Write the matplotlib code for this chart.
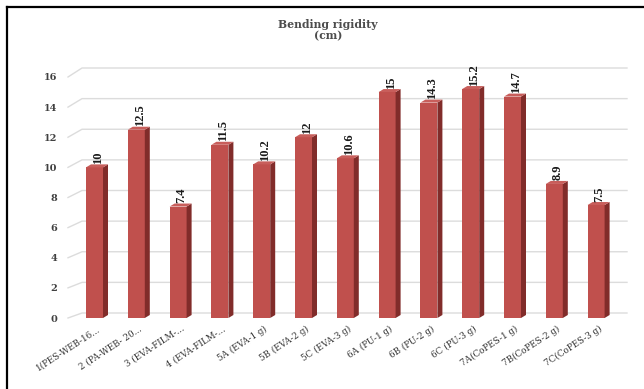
import matplotlib
matplotlib.use("Agg")
import matplotlib.pyplot as plt
from matplotlib.patches import Polygon
from matplotlib.lines import Line2D
import matplotlib.transforms as mtransforms

categories = ["1(PES-WEB-16...", "2 (PA-WEB- 20...", "3 (EVA-FILM-...", "4 (EVA-FILM-...",
              "5A (EVA-1 g)", "5B (EVA-2 g)", "5C (EVA-3 g)", "6A (PU-1 g)", "6B (PU-2 g)",
              "6C (PU-3 g)", "7A(CoPES-1 g)", "7B(CoPES-2 g)", "7C(CoPES-3 g)"]
rigidity = [10, 12.5, 7.4, 11.5, 10.2, 12, 10.6, 15, 14.3, 15.2, 14.7, 8.9, 7.5]
value_labels = ["10", "12.5", "7.4", "11.5", "10.2", "12", "10.6", "15", "14.3",
                "15.2", "14.7", "8.9", "7.5"]
y_ticks = [0, 2, 4, 6, 8, 10, 12, 14, 16]

FRONT = "#C0504D"
SIDE = "#812C2A"
TOP = "#C85E5B"
GRID = "#DCDCDC"
SERIF = ["DejaVu Serif"]
NARROW_SERIF = ["Liberation Serif", "DejaVu Serif"]

W, H = 644, 389
fig = plt.figure(figsize=(W / 100, H / 100), dpi=100)

# plot area geometry (pixels)
left_px, right_px = 68, 627
top_px, bottom_px = 77, 318
step_px = 41.8      # distance between neighbouring bars
first_px = 94.5     # centre of the first bar
ax = fig.add_axes([left_px / W, 1 - bottom_px / H,
                   (right_px - left_px) / W, (bottom_px - top_px) / H])
ax.set_xlim((left_px - first_px) / step_px, (right_px - first_px) / step_px)
ax.set_ylim(0, 16)
for s in ax.spines.values():
    s.set_visible(False)

px_x = step_px
px_y = (bottom_px - top_px) / 16.0
x_lo, x_hi = ax.get_xlim()

# back-wall gridlines with a short slanted floor segment on the left
for v in y_ticks:
    back = v + (5 + 4 * v / 16) / px_y
    xs = x_lo + 14 / px_x
    ax.add_line(Line2D([x_lo, xs, x_hi], [v, back, back], color=GRID, lw=1.0,
                       zorder=1, clip_on=False))

# 3-D looking columns
w = 17 / px_x
dx = 5 / px_x
dy = 3 / px_y
xpos = list(range(len(rigidity)))
ax.bar(xpos, rigidity, width=w, color=FRONT, zorder=3, linewidth=0)
for x, v, lab in zip(xpos, rigidity, value_labels):
    r = x + w / 2
    l = x - w / 2
    ax.add_patch(Polygon([(r, 0), (r + dx, dy), (r + dx, v + dy), (r, v)],
                         closed=True, facecolor=SIDE, edgecolor="none",
                         zorder=3, clip_on=False))
    ax.add_patch(Polygon([(l, v), (l + dx, v + dy), (r + dx, v + dy), (r, v)],
                         closed=True, facecolor=TOP, edgecolor="none",
                         zorder=3, clip_on=False))
    ax.text(x + dx / 2 + 1 / px_x, v + dy + 0.5 / px_y, lab, rotation=90,
            ha="center", va="bottom", fontsize=9, fontweight="bold",
            family=NARROW_SERIF, color="#1a1a1a", clip_on=False, zorder=4)

# axis labels
ax.set_yticks(y_ticks)
ax.set_yticklabels([str(t) for t in y_ticks], family=SERIF, fontweight="bold",
                   fontsize=7, color="#404040")
ax.tick_params(axis="y", length=0, pad=8)

ax.set_xticks(xpos)
ax.set_xticklabels(categories, family=SERIF, fontsize=6.3, color="#333333",
                   rotation=33, ha="right", va="center", rotation_mode="anchor")
ax.tick_params(axis="x", length=0, pad=7)
shift = mtransforms.ScaledTranslation(5 / 100, 0, fig.dpi_scale_trans)
for t in ax.get_xticklabels():
    t.set_transform(t.get_transform() + shift)

fig.text(328 / W, 1 - 30 / H, "Bending rigidity\n(cm)", ha="center", va="center",
         family=SERIF, fontweight="bold", fontsize=7.8, color="#4d4d4d",
         linespacing=1.0)

# frame lines along the top and left edges
fig.add_artist(Line2D([6.5 / W, 1], [1 - 6.5 / H, 1 - 6.5 / H],
                      transform=fig.transFigure, color="black", lw=1.6))
fig.add_artist(Line2D([6.5 / W, 6.5 / W], [0, 1 - 6.5 / H],
                      transform=fig.transFigure, color="black", lw=1.6))

fig.savefig("out.png", dpi=100)
